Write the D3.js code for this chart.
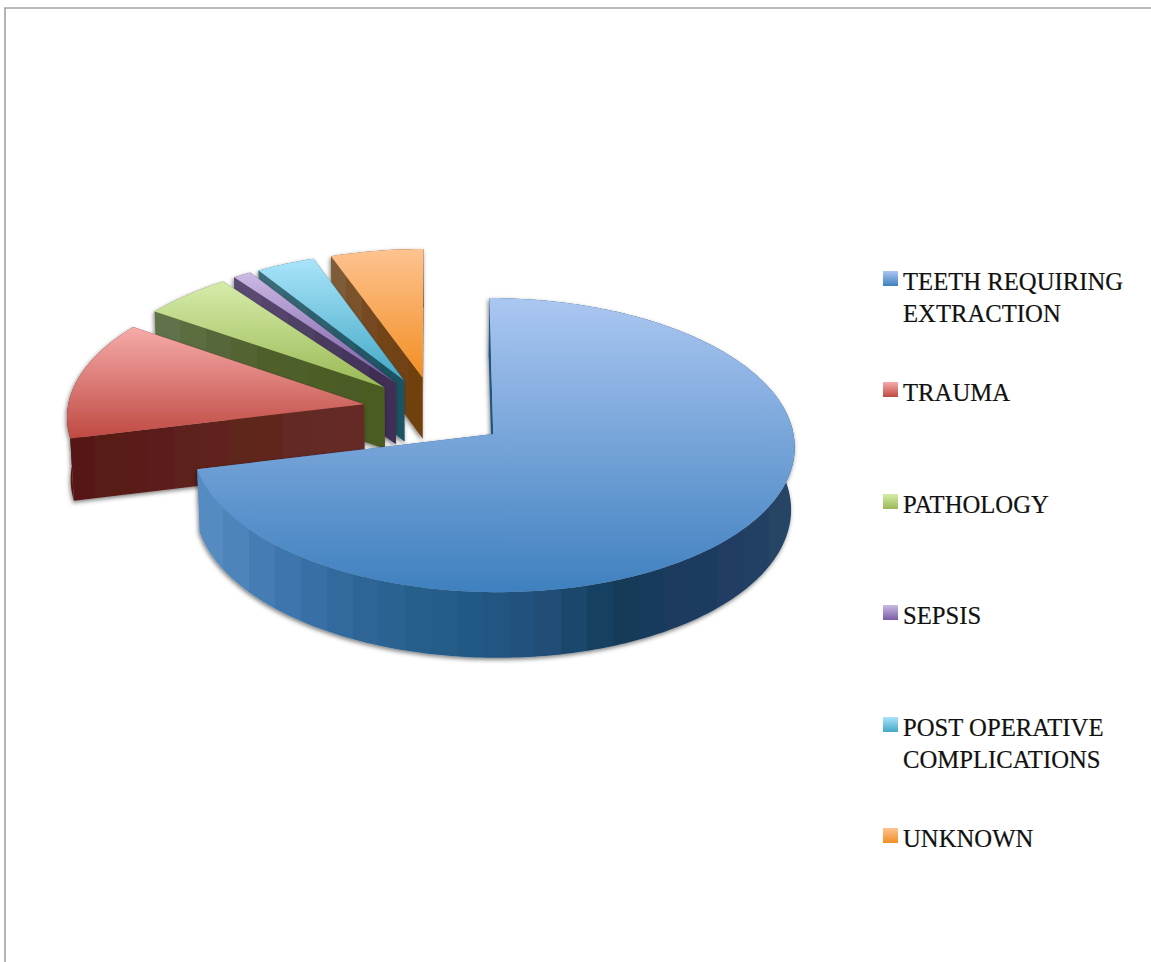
<!DOCTYPE html>
<html>
<head>
<meta charset="utf-8">
<script src="https://cdn.jsdelivr.net/npm/d3@7"></script>
<style>
  html, body { margin: 0; padding: 0; background: #fff; overflow: hidden; }
  text { font-family: "Liberation Serif", serif; fill: #111; stroke: #111; stroke-width: 0.2px; }
</style>
</head>
<body>
<svg id="chart" width="1151" height="962"></svg>
<script>
// Causes, share of cases in percent
const categories = ["TEETH REQUIRING EXTRACTION", "TRAUMA", "PATHOLOGY", "SEPSIS", "POST OPERATIVE COMPLICATIONS", "UNKNOWN"];
const values = [71.2, 13.4, 5.3, 1.1, 3.5, 5.5];
const legendLines = [["TEETH REQUIRING", "EXTRACTION"], ["TRAUMA"], ["PATHOLOGY"], ["SEPSIS"], ["POST OPERATIVE", "COMPLICATIONS"], ["UNKNOWN"]];
const legendTops = [271, 382, 494, 605, 717, 828];

// Face colours: top surface runs light to dark, side walls run left to right
const topColours = [
  ["#abc7f1", "#3f80bf"], ["#f6aba9", "#bf4a42"], ["#d5eca9", "#9bb956"],
  ["#ccbae4", "#7a5aa5"], ["#a9e5fa", "#43a7c6"], ["#fdc390", "#f38e24"]
];
const wallColours = [
  ["#5c8fc4", "#3d76ae", "#2d6595", "#255b86", "#214f7b", "#163a58", "#1e3a62", "#284766"],
  ["#561614", "#5c1f1b", "#60271e", "#672c2a"],
  ["#62744b", "#4f5f2c", "#4a5a22"],
  ["#5d4d74", "#3c2c52"],
  ["#3e6c7a", "#17505f"],
  ["#80603e", "#74451a", "#6e3f0c"]
];

const svg = d3.select("#chart");
const defs = svg.append("defs");

// Oblique perspective view of the pie plane
const view = { cx: 435.4, cy: 413, tilt: 0.4818, persp: 0.00025, sink: 0.01, depth: 62.5 };
const radius = 297, explode = 70;
// Fine placement of each pulled-out slice on the plane
const nudge = [[2.2, 0], [-3, -5.5], [-1.5, -5], [-1, -6], [-1, -6], [-1, -6]];
function project(u, v, z) {
  const s = 1 / (1 - view.persp * v + view.sink * z);
  return [view.cx + u * s, view.cy + view.tilt * v * s + view.depth * z * s];
}
function polar(a, r, off) {
  return [off[0] + r * Math.sin(a), off[1] - r * Math.cos(a)];
}
const line = d3.line();

const pie = d3.pie().sort(null).startAngle(0).endAngle(2 * Math.PI);
const arcs = pie(values);

// Soft shadow cast under each slice
const shadow = defs.append("filter").attr("id", "slice-shadow")
  .attr("filterUnits", "userSpaceOnUse")
  .attr("x", 0).attr("y", 0).attr("width", 1151).attr("height", 962);
shadow.append("feDropShadow")
  .attr("dx", -1).attr("dy", 2).attr("stdDeviation", 2.2)
  .attr("flood-color", "#000").attr("flood-opacity", 0.5);

function gradient(id, colours, horizontal, range) {
  const g = defs.append("linearGradient").attr("id", id);
  if (horizontal) {
    g.attr("gradientUnits", "userSpaceOnUse")
      .attr("x1", range[0]).attr("x2", range[1]).attr("y1", 0).attr("y2", 0);
  } else {
    g.attr("x1", 0).attr("x2", 0).attr("y1", 0).attr("y2", 1);
  }
  return g;
}

// Back slices first, so nearer ones paint over them
const order = [5, 4, 3, 2, 1, 0];
order.forEach(i => {
  const d = arcs[i];
  const mid = (d.startAngle + d.endAngle) / 2;
  const off = [explode * Math.sin(mid) + nudge[i][0], -explode * Math.cos(mid) + nudge[i][1]];
  const n = Math.max(6, Math.ceil((d.endAngle - d.startAngle) * 60));
  const angles = d3.range(n + 1).map(k => d.startAngle + (d.endAngle - d.startAngle) * k / n);
  const rim = angles.map(a => polar(a, radius, off));
  const rimTop = rim.map(p => project(p[0], p[1], 0));
  const rimBot = rim.map(p => project(p[0], p[1], 1));
  const apexTop = project(off[0], off[1], 0);
  const apexBot = project(off[0], off[1], 1);

  const xs = d3.extent(rimTop.concat(rimBot, [apexTop, apexBot]), p => p[0]);

  // Side walls carry a banded horizontal shade
  const wallId = "wall-" + i;
  const bands = Math.max(6, Math.round((xs[1] - xs[0]) / 26));
  const shade = d3.piecewise(d3.interpolateRgb, wallColours[i]);
  const wg = gradient(wallId, wallColours[i], true, xs);
  d3.range(bands).forEach(b => {
    const c = shade((b + 0.5) / bands);
    wg.append("stop").attr("offset", b / bands).attr("stop-color", c);
    wg.append("stop").attr("offset", (b + 1) / bands).attr("stop-color", c);
  });

  const topId = "top-" + i;
  const tg = gradient(topId, topColours[i], false);
  topColours[i].forEach((c, k) => tg.append("stop").attr("offset", k).attr("stop-color", c));

  const g = svg.append("g").attr("class", "slice").attr("filter", "url(#slice-shadow)");
  const wall = pts => g.append("path").attr("d", line(pts) + "Z")
    .attr("fill", `url(#${wallId})`);

  // End cut, curved rim, start cut, then the top surface
  wall([apexTop, rimTop[n], rimBot[n], apexBot]);
  wall(rimTop.concat(rimBot.slice().reverse()));
  wall([apexTop, rimTop[0], rimBot[0], apexBot]);
  g.append("path").attr("d", line([apexTop].concat(rimTop)) + "Z")
    .attr("fill", `url(#${topId})`);
});

// Legend
const legend = svg.append("g").attr("class", "legend");
categories.forEach((name, i) => {
  const sid = "swatch-" + i;
  const sg = gradient(sid, topColours[i], false);
  topColours[i].forEach((c, k) => sg.append("stop").attr("offset", k).attr("stop-color", c));
  legend.append("rect")
    .attr("x", 883).attr("y", legendTops[i]).attr("width", 15).attr("height", 15)
    .attr("fill", `url(#${sid})`);
  legendLines[i].forEach((t, k) => {
    legend.append("text")
      .attr("x", 903).attr("y", legendTops[i] + 19 + k * 31.5)
      .attr("font-size", 24.7)
      .text(t);
  });
});

// Frame on the top and left edges
svg.append("path")
  .attr("d", "M1151,8H5V962")
  .attr("fill", "none").attr("stroke", "#a2a2a2").attr("stroke-width", 1.6);
</script>
</body>
</html>
